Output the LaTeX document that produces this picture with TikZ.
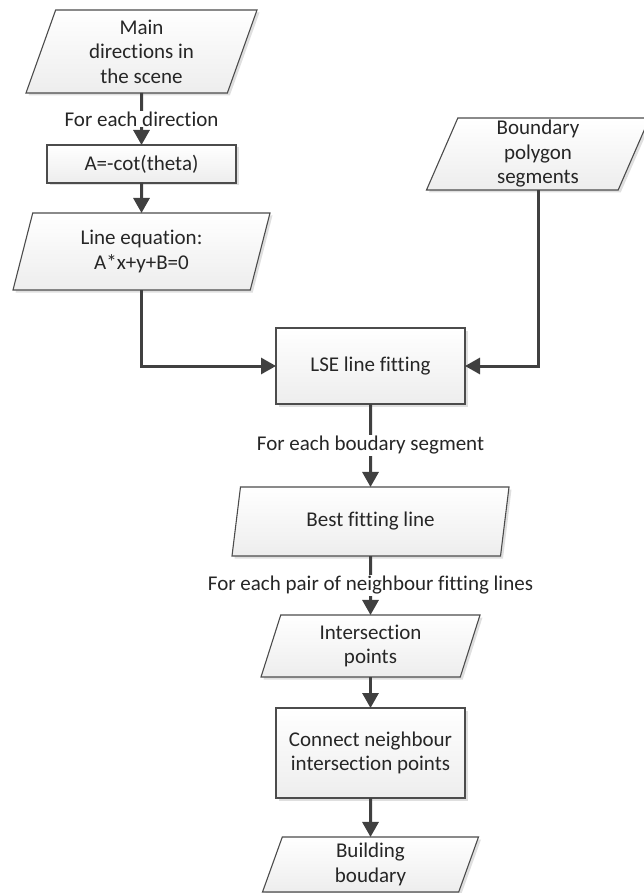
\documentclass[tikz,border=0pt]{standalone}
\usepackage{fontspec}
\setmainfont{Carlito}[Ligatures=CommonOff]
\usetikzlibrary{shapes.geometric,arrows.meta,shadows}

\begin{document}
\begin{tikzpicture}[
    x=1pt, y=-1pt,
    every node/.style={font=\fontsize{21}{24.5}\selectfont, text=black!85},
    base/.style={%
      draw=gray!60!black,
      line width=1.1pt,
      top color=white,
      bottom color=gray!14,
      drop shadow={shadow xshift=2.5pt, shadow yshift=-2.5pt, opacity=0.25, fill=gray},
      align=center,
      inner sep=0pt,
      outer sep=0pt,
    },
    proc/.style={%
      base,
      rectangle,
      minimum width=189pt,
    },
    data/.style={%
      base,
      trapezium,
      trapezium left angle=65,
      trapezium right angle=115,
      trapezium stretches body,
    },
    arr/.style={%
      draw=black!75,
      line width=3pt,
      -{Triangle[length=15pt,width=16pt]},
    },
    lbl/.style={fill=white, inner sep=1pt},
  ]

    \useasboundingbox (0,0) rectangle (643,893);

    \node [data, minimum width=231pt, minimum height=83pt] (A) at (141.5,51.5) {Main\\directions in\\the scene};
    \node [proc, minimum height=38pt] (B) at (141.5,164) {A=-cot(theta)};
    \node [data, minimum width=257pt, minimum height=77pt] (C) at (141.5,251.5) {Line equation:\\A*x+y+B=0};
    \node [data, minimum width=223pt, minimum height=72pt] (D) at (538,154) {Boundary\\polygon\\segments};
    \node [proc, minimum height=76pt] (E) at (370.5,366) {LSE line fitting};
    \node [data, minimum width=277pt, minimum height=69pt] (F) at (370.5,521.5) {Best fitting line};
    \node [data, minimum width=219pt, minimum height=62pt] (G) at (370.5,646) {Intersection\\points};
    \node [proc, minimum height=90pt] (H) at (370.5,753) {Connect neighbour\\intersection points};
    \node [data, minimum width=216pt, minimum height=55pt] (I) at (370.5,864.5) {Building\\boudary};

    \draw [arr] (A) -- (B) node [lbl, pos=0.5] {For each direction};
    \draw [arr] (B) -- (C);
    \draw [arr] (C.south) |- (E.west);
    \draw [arr] (D.south) |- (E.east);
    \draw [arr] (E) -- (F) node [lbl, pos=0.5] {For each boudary segment};
    \draw [arr] (F) -- (G) node [lbl, pos=0.5] {For each pair of neighbour fitting lines};
    \draw [arr] (G) -- (H);
    \draw [arr] (H) -- (I);
\end{tikzpicture}
\end{document}
